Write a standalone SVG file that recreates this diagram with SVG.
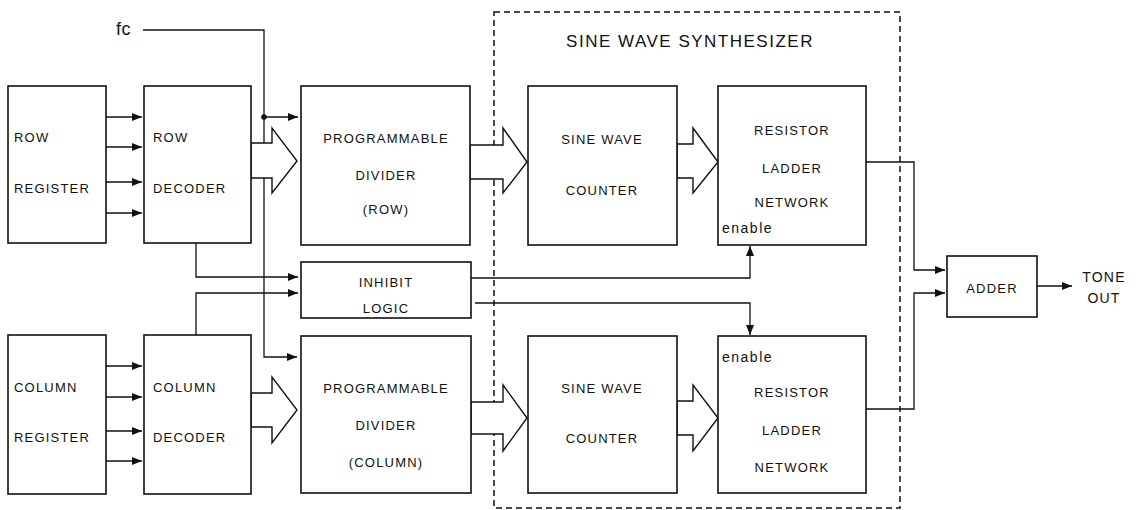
<svg xmlns="http://www.w3.org/2000/svg" width="1141" height="510" viewBox="0 0 1141 510">
<defs>
<marker id="ah" viewBox="0 0 10 8" refX="10" refY="4" markerWidth="10" markerHeight="8" markerUnits="userSpaceOnUse" orient="auto">
<path d="M0,0 L10,4 L0,8 Z" fill="#111"/>
</marker>
<style>
.box{fill:#fff;stroke:#111;stroke-width:1.6}
.ln{fill:none;stroke:#111;stroke-width:1.3}
.hol{fill:#fff;stroke:#111;stroke-width:1.4;stroke-linejoin:miter}
.dash{fill:none;stroke:#111;stroke-width:1.5;stroke-dasharray:6 4}
text{font-family:"Liberation Sans",Arial,sans-serif;font-size:13px;letter-spacing:1.2px;fill:#111}
.c{text-anchor:middle}
.title{font-size:17px;letter-spacing:1.5px}
</style>
</defs>
<rect width="1141" height="510" fill="#fff"/>

<rect class="dash" x="494" y="12" width="406" height="496"/>
<text class="title c" x="690" y="47">SINE WAVE SYNTHESIZER</text>

<g id="connectors">
<path class="ln" d="M143,30 H264 V357 H297" marker-end="url(#ah)"/>
<path class="ln" d="M264,117 H298" marker-end="url(#ah)"/>
<circle cx="264" cy="117" r="2.8" fill="#111"/>
<path class="ln" d="M106,117 H142" marker-end="url(#ah)"/>
<path class="ln" d="M106,147 H142" marker-end="url(#ah)"/>
<path class="ln" d="M106,182 H142" marker-end="url(#ah)"/>
<path class="ln" d="M106,213 H142" marker-end="url(#ah)"/>
<path class="ln" d="M106,366 H142" marker-end="url(#ah)"/>
<path class="ln" d="M106,397 H142" marker-end="url(#ah)"/>
<path class="ln" d="M106,431 H142" marker-end="url(#ah)"/>
<path class="ln" d="M106,461 H142" marker-end="url(#ah)"/>
<path class="ln" d="M196,243 V277 H298" marker-end="url(#ah)"/>
<path class="ln" d="M196,335 V293 H298" marker-end="url(#ah)"/>
<path class="ln" d="M471,278 H750 V246" marker-end="url(#ah)"/>
<path class="ln" d="M475,303 H750 V335" marker-end="url(#ah)"/>
<path class="ln" d="M866,162 H914 V270 H945" marker-end="url(#ah)"/>
<path class="ln" d="M866,409 H914 V293 H945" marker-end="url(#ah)"/>
<path class="ln" d="M1037,286 H1072" marker-end="url(#ah)"/>
<polygon class="hol" points="251,143 272,143 272,128 297,161 272,193 272,178 251,178"/>
<polygon class="hol" points="251,393 272,393 272,377 297,410 272,443 272,427 251,427"/>
<polygon class="hol" points="470,145 503,145 503,128 527,162 503,193 503,179 470,179"/>
<polygon class="hol" points="677,144 693,144 693,128 718,162 693,193 693,178 677,178"/>
<polygon class="hol" points="471,402 503,402 503,385 527,418 503,451 503,434 471,434"/>
<polygon class="hol" points="677,401 693,401 693,385 718,418 693,451 693,435 677,435"/>
</g>

<g id="row-register">
<rect class="box" x="8" y="86" width="98" height="157"/>
<text x="14" y="142">ROW</text>
<text x="14" y="193">REGISTER</text>
</g>
<g id="row-decoder">
<rect class="box" x="144" y="86" width="107" height="157"/>
<text x="153" y="142">ROW</text>
<text x="153" y="193">DECODER</text>
</g>
<g id="prog-divider-row">
<rect class="box" x="301" y="86" width="169" height="159"/>
<text class="c" x="386" y="143">PROGRAMMABLE</text>
<text class="c" x="386" y="180">DIVIDER</text>
<text class="c" x="386" y="214">(ROW)</text>
</g>
<g id="inhibit-logic">
<rect class="box" x="301" y="262" width="170" height="56"/>
<text class="c" x="386" y="287">INHIBIT</text>
<text class="c" x="386" y="313">LOGIC</text>
</g>
<g id="sine-counter-row">
<rect class="box" x="528" y="86" width="149" height="159"/>
<text class="c" x="602" y="144">SINE WAVE</text>
<text class="c" x="602" y="195">COUNTER</text>
</g>
<g id="ladder-row">
<rect class="box" x="718" y="86" width="148" height="159"/>
<text class="c" x="792" y="135">RESISTOR</text>
<text class="c" x="792" y="173">LADDER</text>
<text class="c" x="792" y="207">NETWORK</text>
<text x="722" y="233" style="font-size:14px;letter-spacing:1.5px">enable</text>
</g>
<g id="col-register">
<rect class="box" x="8" y="335" width="98" height="159"/>
<text x="14" y="392">COLUMN</text>
<text x="14" y="442">REGISTER</text>
</g>
<g id="col-decoder">
<rect class="box" x="144" y="335" width="107" height="159"/>
<text x="153" y="392">COLUMN</text>
<text x="153" y="442">DECODER</text>
</g>
<g id="prog-divider-col">
<rect class="box" x="301" y="336" width="170" height="157"/>
<text class="c" x="386" y="393">PROGRAMMABLE</text>
<text class="c" x="386" y="430">DIVIDER</text>
<text class="c" x="386" y="467">(COLUMN)</text>
</g>
<g id="sine-counter-col">
<rect class="box" x="528" y="336" width="149" height="157"/>
<text class="c" x="602" y="393">SINE WAVE</text>
<text class="c" x="602" y="443">COUNTER</text>
</g>
<g id="ladder-col">
<rect class="box" x="718" y="336" width="148" height="157"/>
<text x="722" y="362" style="font-size:14px;letter-spacing:1.5px">enable</text>
<text class="c" x="792" y="397">RESISTOR</text>
<text class="c" x="792" y="435">LADDER</text>
<text class="c" x="792" y="472">NETWORK</text>
</g>
<g id="adder">
<rect class="box" x="947" y="256" width="90" height="61"/>
<text class="c" x="992" y="293">ADDER</text>
</g>
<g id="labels">
<text x="116" y="35" style="font-size:18px;letter-spacing:0.5px">fc</text>
<text class="c" x="1104" y="282" style="font-size:14px">TONE</text>
<text class="c" x="1104" y="303" style="font-size:14px">OUT</text>
</g>
</svg>
